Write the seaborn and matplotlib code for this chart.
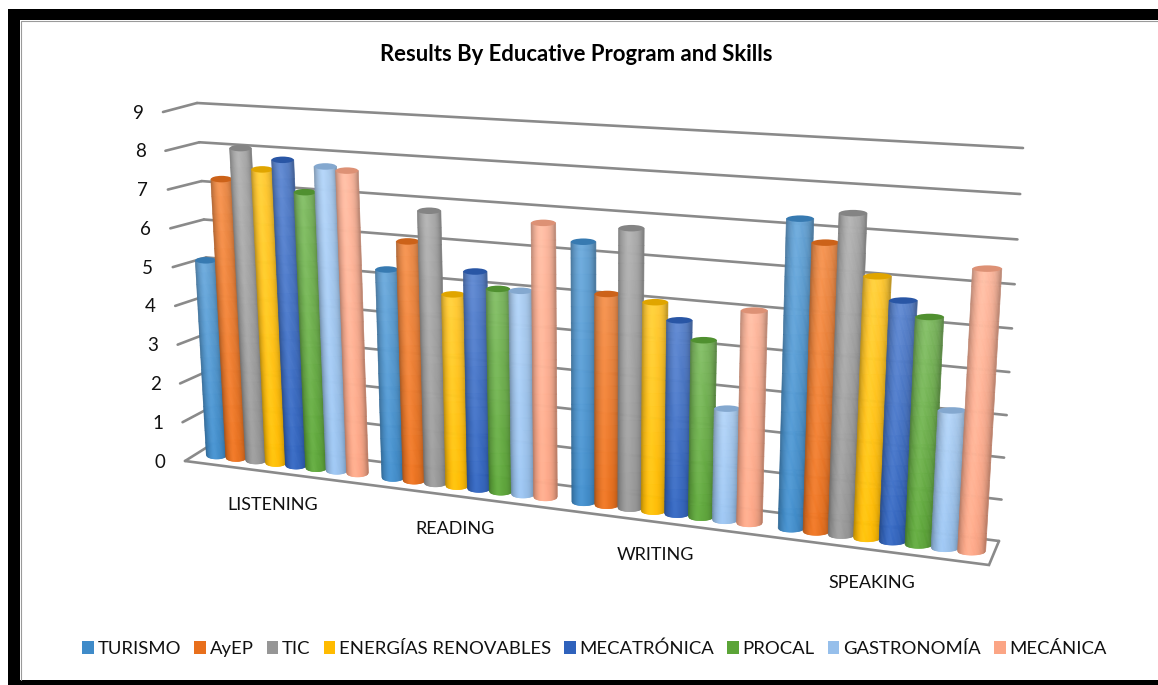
import numpy as np
import pandas as pd
import matplotlib
matplotlib.use("Agg")
import matplotlib.pyplot as plt
import seaborn as sns
from matplotlib.collections import PolyCollection
from matplotlib.colors import to_rgb
from matplotlib.patches import Ellipse, Patch, Rectangle
from matplotlib.transforms import Transform

W, H = 1158, 685

# Data
skills = ["LISTENING", "READING", "WRITING", "SPEAKING"]
programs = ["TURISMO", "AyEP", "TIC", "ENERGÍAS RENOVABLES", "MECATRÓNICA", "PROCAL", "GASTRONOMÍA", "MECÁNICA"]
turismo = [5.2, 5.35, 6.4, 7.28]
ayep = [7.32, 6.09, 5.2, 6.78]
tic = [8.13, 6.88, 6.8, 7.48]
energias = [7.63, 4.87, 5.1, 6.11]
mecatronica = [7.9, 5.48, 4.72, 5.61]
procal = [7.13, 5.1, 4.3, 5.29]
gastronomia = [7.8, 5.1, 2.72, 3.22]
mecanica = [7.73, 6.78, 5.1, 6.46]
yticks = list(range(10))
colors = ["#3F8BC9", "#E86F1C", "#969696", "#FFBB00", "#2F62BC", "#5BA437", "#96BFEB", "#FBA585"]

sns.set_theme(style="white")
plt.rcParams["font.family"] = ["Lato", "DejaVu Sans"]

values = [turismo, ayep, tic, energias, mecatronica, procal, gastronomia, mecanica]
df = pd.DataFrame({
    "skill": [s for _ in programs for s in skills],
    "program": [p for p in programs for _ in skills],
    "score": [v for row in values for v in row],
})


# Excel style 3D: data plane -> picture pixels through a homography
def homography(src, dst):
    A, b = [], []
    for (x, y), (u, v) in zip(src, dst):
        A.append([x, y, 1, 0, 0, 0, -u * x, -u * y])
        A.append([0, 0, 0, x, y, 1, -v * x, -v * y])
        b += [u, v]
    return np.append(np.linalg.solve(np.array(A, float), np.array(b, float)), 1).reshape(3, 3)


class PlaneTransform(Transform):
    input_dims = 2
    output_dims = 2

    def __init__(self, matrix):
        super().__init__()
        self.matrix = matrix

    def transform_non_affine(self, values):
        values = np.atleast_2d(np.asarray(values, float))
        xyw = np.column_stack([values, np.ones(len(values))]) @ self.matrix.T
        return xyw[:, :2] / xyw[:, 2:]


bar_plane = PlaneTransform(homography(
    [(-0.4, 0), (3.4, 0), (-0.4, 9), (3.4, 9)],
    [(217, 455), (971, 551), (198, 111), (993, 151)]))
wall_plane = PlaneTransform(homography(
    [(-0.5, 0), (3.5, 0), (-0.5, 9), (3.5, 9)],
    [(217, 441), (999, 541), (197, 103), (1023, 148)]))

fig = plt.figure(figsize=(W / 100, H / 100), dpi=100, facecolor="white")
ax = fig.add_axes([0, 0, 1, 1])
pix = fig.add_axes([0, 0, 1, 1], zorder=-1)
pix.set_xlim(0, W)
pix.set_ylim(H, 0)
pix.axis("off")

sns.barplot(data=df, x="skill", y="score", hue="program", order=skills, hue_order=programs,
            palette=colors, width=0.92, gap=0, legend=False, ax=ax)
ax.set_xlim(-0.5, 3.5)
ax.set_ylim(0, 9)
ax.axis("off")
ax.patch.set_alpha(0)

# frame
pix.add_patch(Rectangle((8, 9), 12, H - 9, fc="black", ec="none"))
pix.add_patch(Rectangle((8, 9), W, 11, fc="black", ec="none"))
pix.add_patch(Rectangle((8, 680), W, 5, fc="black", ec="none"))
pix.plot([20.5, 20.5, W], [680, 20.5, 20.5], color="#9a9a9a", lw=0.8)

# walls and floor
GRID = "#8a8a8a"
front_left = lambda v: (185 - 22 * v / 9, 461 - 349 * v / 9)
for v in yticks:
    pts = wall_plane.transform(np.array([[-0.5, v], [3.5, v]], float))
    pix.plot(pts[:, 0], pts[:, 1], color=GRID, lw=1.9, solid_capstyle="round")
    fx, fy = front_left(v)
    pix.plot([fx, pts[0, 0]], [fy, pts[0, 1]], color=GRID, lw=1.9, solid_capstyle="round")
    pix.text(fx - 25, fy + 1, str(v), ha="center", va="center", fontsize=13.5, color="#111111")
pix.plot([185, 989, 999], [461, 565, 541], color=GRID, lw=1.9, solid_joinstyle="miter")


# cylinders, built from the bars seaborn laid out
def shade(rgb, s, t):
    base = np.array(rgb)
    c = base + (1 - base) * 0.2 * t
    return np.clip(c * (1 - 0.28 * abs(s) ** 3) + 0.04 * np.exp(-((s + 0.2) / 0.35) ** 2), 0, 1)


order = 10
edges = np.linspace(-1, 1, 25)
levels = np.linspace(0, 1, 17)
for container, color in zip(ax.containers, colors):
    rgb = to_rgb(color)
    for bar in container:
        bar.set_visible(False)
        xl, w, h = bar.get_x(), bar.get_width(), bar.get_height()
        base_l, base_r = bar_plane.transform(np.array([[xl, 0], [xl + w, 0]], float))
        top_l, top_r = bar_plane.transform(np.array([[xl, h], [xl + w, h]], float))
        p0, p1 = (base_l + base_r) / 2, (top_l + top_r) / 2
        # caps stay level on screen, as in the 3D original
        w0, w1 = (base_r[0] - base_l[0]) * 1.05, (top_r[0] - top_l[0]) * 1.05
        verts, faces = [], []
        for a, b in zip(edges[:-1], edges[1:]):
            for t0, t1 in zip(levels[:-1], levels[1:]):
                q = []
                for s, t in [(a, t0), (b, t0), (b, t1), (a, t1)]:
                    cx = p0[0] + (p1[0] - p0[0]) * t
                    cy = p0[1] + (p1[1] - p0[1]) * t
                    wid = w0 + (w1 - w0) * t
                    drop = 4 * np.sqrt(max(1 - s * s, 0)) if t == 0 else 0
                    q.append((cx + s * wid / 2, cy + drop))
                verts.append(q)
                faces.append(shade(rgb, (a + b) / 2, t1))
        ax.add_collection(PolyCollection(verts, facecolors=faces, edgecolors="face", linewidths=0.5,
                                         transform=pix.transData, zorder=order, clip_on=False), autolim=False)
        ax.add_patch(Ellipse(p1, w1, 6.5, fc=np.array(rgb) * 0.88, ec="none",
                             transform=pix.transData, zorder=order + 1, clip_on=False))
    order += 2

# texts
pix.text(576, 54, "Results By Educative Program and Skills", ha="center", va="center",
         fontsize=15.9, fontweight="bold", color="black")
for label, x, y in zip(skills, [273, 455, 655, 872], [505, 529, 555, 583]):
    pix.text(x, y, label, ha="center", va="center", fontsize=13, color="#111111")

handles = [Patch(facecolor=c, edgecolor="none") for c in colors]
pix.legend(handles, programs, ncol=8, loc="center", bbox_to_anchor=(594.5, 649),
           bbox_transform=pix.transData, frameon=False, fontsize=13.3, handlelength=0.62,
           handleheight=0.7, handletextpad=0.2, columnspacing=0.72, labelcolor="#111111")

fig.savefig("out.png", dpi=100, facecolor="white")
